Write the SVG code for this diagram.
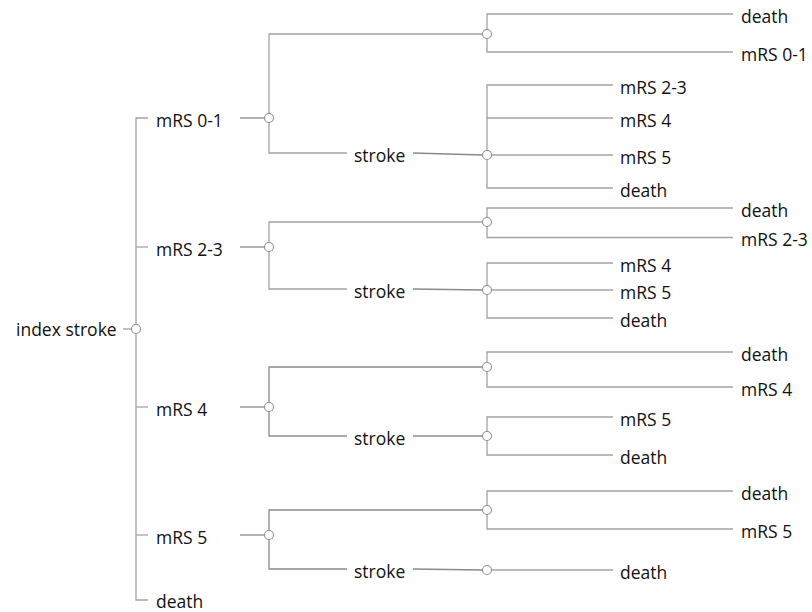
<svg xmlns="http://www.w3.org/2000/svg" width="812" height="612" viewBox="0 0 812 612">
  <style>
    .ln { stroke: #a3a3a3; stroke-width: 1.3; fill: none; }
    .dk { stroke: #8a8a8a; stroke-width: 1.3; fill: none; }
    .ch { fill: #ffffff; stroke: #8f8f8f; stroke-width: 1.1; }
    text { font-family: "Open Sans", "Liberation Sans", sans-serif; font-size: 17.5px; fill: #111111; }
  </style>
  <rect width="812" height="612" fill="#ffffff"/>

  <!-- connectors -->
  <g id="connectors">
    <!-- root trunk and ticks -->
    <line class="ln" x1="123" y1="329" x2="132" y2="329"/>
    <path class="ln" d="M148 118 H136 V600 H148"/>
    <line class="ln" x1="136" y1="247" x2="148" y2="247"/>
    <line class="ln" x1="136" y1="407" x2="148" y2="407"/>
    <line class="ln" x1="136" y1="535" x2="148" y2="535"/>

    <!-- branch mRS 0-1 -->
    <line class="dk" x1="240" y1="118" x2="264.5" y2="118"/>
    <path class="ln" d="M482.5 34 H269 V153 H347"/>
    <line class="dk" x1="413" y1="153" x2="482.5" y2="155"/>
    <path class="ln" d="M733 14 H487 V52 H733"/>
    <path class="ln" d="M613 85 H487 V188 H613"/>
    <line class="ln" x1="487" y1="118" x2="613" y2="118"/>
    <line class="ln" x1="491.5" y1="155" x2="613" y2="155"/>

    <!-- branch mRS 2-3 -->
    <line class="dk" x1="240" y1="247" x2="264.5" y2="247"/>
    <path class="ln" d="M482.5 222 H269 V289 H347"/>
    <line class="dk" x1="413" y1="289" x2="482.5" y2="290"/>
    <path class="ln" d="M733 208 H487 V237.5 H733"/>
    <path class="ln" d="M613 263 H487 V318 H613"/>
    <line class="ln" x1="491.5" y1="290" x2="613" y2="290"/>

    <!-- branch mRS 4 -->
    <line class="dk" x1="240" y1="407" x2="264.5" y2="407"/>
    <path class="dk" d="M482.5 367 H269 V436 H347"/>
    <line class="dk" x1="413" y1="436" x2="482.5" y2="436"/>
    <path class="ln" d="M733 352 H487 V387 H733"/>
    <path class="ln" d="M613 417 H487 V455 H613"/>

    <!-- branch mRS 5 -->
    <line class="dk" x1="240" y1="535" x2="264.5" y2="535"/>
    <path class="dk" d="M482.5 510 H269 V569 H347"/>
    <line class="dk" x1="413" y1="569" x2="482.5" y2="570"/>
    <path class="ln" d="M733 491 H487 V529 H733"/>
    <line class="ln" x1="491.5" y1="570" x2="613" y2="570"/>
  </g>

  <!-- root -->
  <g id="node-index">
    <text x="16" y="336">index stroke</text>
    <circle class="ch" cx="136" cy="329" r="4.5"/>
  </g>

  <!-- first-level states -->
  <g id="node-mrs01"><text x="156" y="126.5">mRS 0-1</text><circle class="ch" cx="269" cy="118" r="4.5"/></g>
  <g id="node-mrs23"><text x="156" y="255.5">mRS 2-3</text><circle class="ch" cx="269" cy="247" r="4.5"/></g>
  <g id="node-mrs4"><text x="156" y="415.5">mRS 4</text><circle class="ch" cx="269" cy="407" r="4.5"/></g>
  <g id="node-mrs5"><text x="156" y="543.5">mRS 5</text><circle class="ch" cx="269" cy="535" r="4.5"/></g>
  <g id="node-death0"><text x="156" y="607.5">death</text></g>

  <!-- mRS 0-1 subtree -->
  <g id="node-a-nostroke"><circle class="ch" cx="487" cy="34" r="4.5"/></g>
  <g id="node-a-death"><text x="741" y="22.5">death</text></g>
  <g id="node-a-stay"><text x="741" y="60.5">mRS 0-1</text></g>
  <g id="node-a-stroke"><text x="354" y="161.5">stroke</text><circle class="ch" cx="487" cy="155" r="4.5"/></g>
  <g id="node-a-s1"><text x="620" y="93.5">mRS 2-3</text></g>
  <g id="node-a-s2"><text x="620" y="126.5">mRS 4</text></g>
  <g id="node-a-s3"><text x="620" y="163.5">mRS 5</text></g>
  <g id="node-a-s4"><text x="620" y="196.5">death</text></g>

  <!-- mRS 2-3 subtree -->
  <g id="node-b-nostroke"><circle class="ch" cx="487" cy="222" r="4.5"/></g>
  <g id="node-b-death"><text x="741" y="216.5">death</text></g>
  <g id="node-b-stay"><text x="741" y="246">mRS 2-3</text></g>
  <g id="node-b-stroke"><text x="354" y="297.5">stroke</text><circle class="ch" cx="487" cy="290" r="4.5"/></g>
  <g id="node-b-s1"><text x="620" y="271.5">mRS 4</text></g>
  <g id="node-b-s2"><text x="620" y="298.5">mRS 5</text></g>
  <g id="node-b-s3"><text x="620" y="326.5">death</text></g>

  <!-- mRS 4 subtree -->
  <g id="node-c-nostroke"><circle class="ch" cx="487" cy="367" r="4.5"/></g>
  <g id="node-c-death"><text x="741" y="360.5">death</text></g>
  <g id="node-c-stay"><text x="741" y="395.5">mRS 4</text></g>
  <g id="node-c-stroke"><text x="354" y="444.5">stroke</text><circle class="ch" cx="487" cy="436" r="4.5"/></g>
  <g id="node-c-s1"><text x="620" y="425.5">mRS 5</text></g>
  <g id="node-c-s2"><text x="620" y="463.5">death</text></g>

  <!-- mRS 5 subtree -->
  <g id="node-d-nostroke"><circle class="ch" cx="487" cy="510" r="4.5"/></g>
  <g id="node-d-death"><text x="741" y="499.5">death</text></g>
  <g id="node-d-stay"><text x="741" y="537.5">mRS 5</text></g>
  <g id="node-d-stroke"><text x="354" y="577.5">stroke</text><circle class="ch" cx="487" cy="570" r="4.5"/></g>
  <g id="node-d-s1"><text x="620" y="578.5">death</text></g>
</svg>
